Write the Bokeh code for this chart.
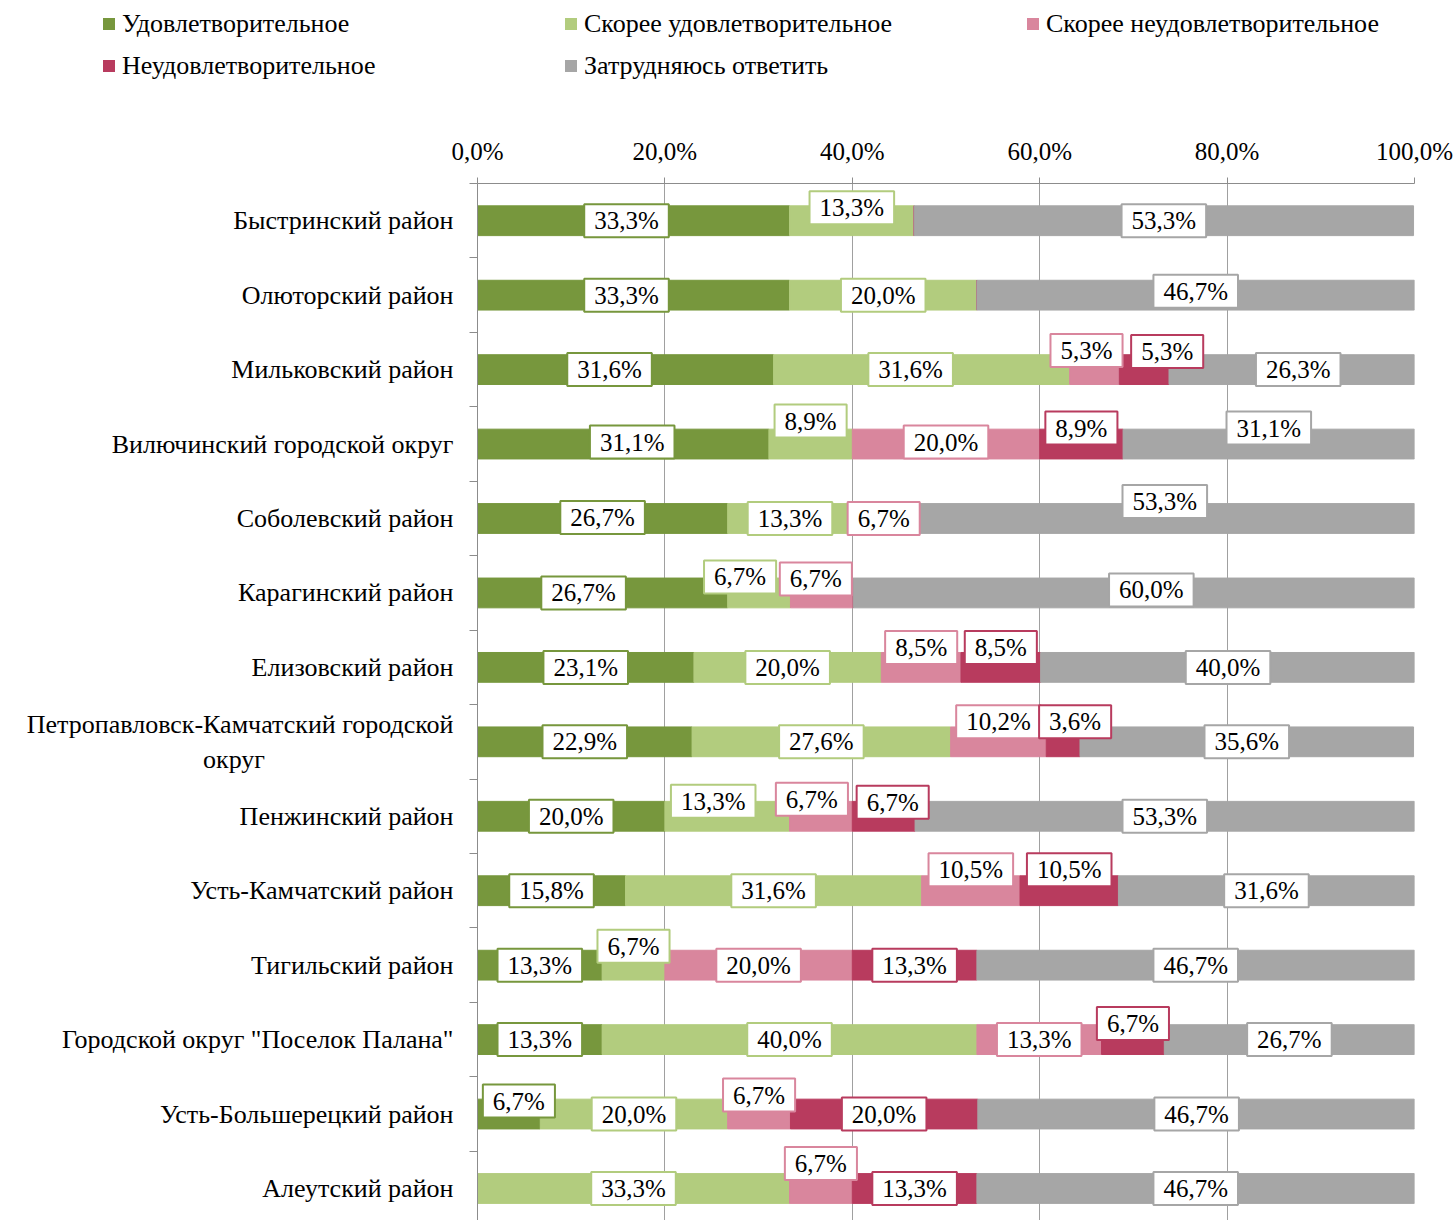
from bokeh.plotting import figure
from bokeh.models import ColumnDataSource, Range1d, FixedTicker, Div
from bokeh.layouts import column
from bokeh.embed import file_html
from bokeh.resources import INLINE
from bokeh.core.properties import value

# ---------------- data ----------------
NB = "\u00a0"
categories = [
    "Быстринский район",
    "Олюторский район",
    "Мильковский район",
    "Вилючинский городской округ",
    "Соболевский район",
    "Карагинский район",
    "Елизовский район",
    "Петропавловск-Камчатский городской\nокруг" + NB * 29,
    "Пенжинский район",
    "Усть-Камчатский район",
    "Тигильский район",
    "Городской округ \"Поселок Палана\"",
    "Усть-Большерецкий район",
    "Алеутский район",
]
series_names = [
    "Удовлетворительное",
    "Скорее удовлетворительное",
    "Скорее неудовлетворительное",
    "Неудовлетворительное",
    "Затрудняюсь ответить",
]
satisfied = [33.3, 33.3, 31.6, 31.1, 26.7, 26.7, 23.1, 22.9, 20.0, 15.8, 13.3, 13.3, 6.7, 0.0]
rather_satisfied = [13.3, 20.0, 31.6, 8.9, 13.3, 6.7, 20.0, 27.6, 13.3, 31.6, 6.7, 40.0, 20.0, 33.3]
rather_unsatisfied = [0.0, 0.0, 5.3, 20.0, 6.7, 6.7, 8.5, 10.2, 6.7, 10.5, 20.0, 13.3, 6.7, 6.7]
unsatisfied = [0.0, 0.0, 5.3, 8.9, 0.0, 0.0, 8.5, 3.6, 6.7, 10.5, 13.3, 6.7, 20.0, 13.3]
hard_to_say = [53.3, 46.7, 26.3, 31.1, 53.3, 60.0, 40.0, 35.6, 53.3, 31.6, 46.7, 26.7, 46.7, 46.7]

x_ticks = [0, 20, 40, 60, 80, 100]
x_tick_labels = ["0,0%", "20,0%", "40,0%", "60,0%", "80,0%", "100,0%"]

# ---------------- styles ----------------
colors = ["#77973D", "#B2CC7E", "#D9869D", "#B83B5E", "#A6A6A6"]
FONT = "Liberation Serif"

# label nudges in screen px (dx right, dy down), per row and series
LABEL_DX = [
    [-7, 0, 0, 0, 0],
    [-7, 0, 0, 0, 0],
    [-16, -11, -8, 23, 6],
    [9, 0, 0, 0, 0],
    [0, 0, 0, 0, 0],
    [-19, -19, -6, 0, 17],
    [0, 0, 0, 0, 0],
    [0, 0, 0, 12, 0],
    [0, -14, -9, 9, 0],
    [0, 0, 0, 0, 0],
    [0, 0, 0, 0, 0],
    [0, 0, 0, 0, 0],
    [10, 0, 0, 0, 0],
    [0, 0, 0, 0, 0],
]
LABEL_DY = [
    [0, -13, 0, 0, 0],
    [0, 0, 0, 0, -4],
    [0, 0, -19, -18, 0],
    [-2, -23, -2, -16, -16],
    [-1, 0, 0, 0, -17],
    [0, -16, -14, 0, -3],
    [0, 0, -20, -20, 0],
    [0, 0, -20, -20, 0],
    [0, -15, -17, -14, 0],
    [0, 0, -21, -21, 0],
    [0, -19, 0, 0, 0],
    [0, 0, 0, -16, 0],
    [-13, 0, -19, 0, 0],
    [0, 0, -25, 0, 0],
]

series = [satisfied, rather_satisfied, rather_unsatisfied, unsatisfied, hard_to_say]
keys = ["s0", "s1", "s2", "s3", "s4"]

src = ColumnDataSource(dict(y=list(range(len(categories))), **{k: v for k, v in zip(keys, series)}))

# labels at segment centres
lx, ly, lt, lc, ldx, ldy = [], [], [], [], [], []
for i in range(len(categories)):
    cum = 0.0
    for j, s in enumerate(series):
        v = s[i]
        if v > 0:
            lx.append(cum + v / 2)
            ly.append(i)
            lt.append(f"{v:.1f}".replace(".", ",") + "%")
            lc.append(colors[j])
            ldx.append(LABEL_DX[i][j])
            ldy.append(LABEL_DY[i][j])
        cum += v
lab_src = ColumnDataSource(dict(x=lx, y=ly, text=lt, color=lc, dx=ldx, dy=ldy))

# ---------------- legend (HTML block above the chart) ----------------
LEG_H = 100
item_html = "".join(
    f'<div style="display:flex;align-items:center;height:30px;">'
    f'<span style="display:inline-block;width:12px;height:12px;background:{c};margin-right:7px;"></span>'
    f'<span>{name}</span></div>'
    for name, c in zip(series_names, colors)
)
legend_div = Div(
    text=(f'<div style="display:grid;grid-template-columns:repeat(3,462px);row-gap:12px;'
          f'padding-left:103px;padding-top:9px;font-family:\'{FONT}\';font-size:26px;'
          f'line-height:30px;color:black;white-space:nowrap;">{item_html}</div>'),
    width=1456, height=LEG_H, margin=0,
)

# ---------------- figure ----------------
p = figure(width=1456, height=1220 - LEG_H, output_backend="svg", toolbar_location=None,
           x_range=Range1d(0, 100), y_range=Range1d(13.43, -0.5),
           x_axis_location="above", margin=0,
           min_border_left=477, min_border_right=42, min_border_top=183 - LEG_H,
           min_border_bottom=0)
p.outline_line_color = None

bars = p.hbar_stack(keys, y="y", height=0.4, color=colors, source=src)

p.text(x="x", y="y", text="text", x_offset="dx", y_offset="dy", source=lab_src,
       text_align="center", text_baseline="middle",
       text_font=value(FONT), text_font_size="25px", text_color="black",
       background_fill_color="white", border_line_color="color", border_line_width=2,
       padding=dict(left=10, right=10, top=3, bottom=3))

AX = "#8C8C8C"
xa = p.xaxis[0]
xa.ticker = FixedTicker(ticks=x_ticks, minor_ticks=[])
xa.major_label_overrides = {t: l for t, l in zip(x_ticks, x_tick_labels)}
xa.major_label_text_font = FONT
xa.major_label_text_font_size = "25px"
xa.major_label_text_color = "black"
xa.major_label_standoff = 13
xa.major_tick_out = 6
xa.major_tick_in = 0
xa.axis_line_color = AX
xa.major_tick_line_color = AX

ya = p.yaxis[0]
ya.ticker = FixedTicker(ticks=list(range(len(categories))),
                        minor_ticks=[i - 0.5 for i in range(len(categories) + 1)])
ya.major_label_overrides = {i: c for i, c in enumerate(categories)}
ya.major_label_text_font = FONT
ya.major_label_text_font_size = "26px"
ya.major_label_text_color = "black"
ya.major_label_standoff = 16
ya.major_tick_out = 0
ya.major_tick_in = 0
ya.minor_tick_out = 8
ya.minor_tick_in = 0
ya.minor_tick_line_color = AX
ya.axis_line_color = AX

p.xgrid.ticker = FixedTicker(ticks=x_ticks)
p.xgrid.grid_line_color = "#A0A0A0"
p.ygrid.visible = False

layout = column(legend_div, p, spacing=0)
open("out.html", "w").write(file_html(layout, INLINE))
